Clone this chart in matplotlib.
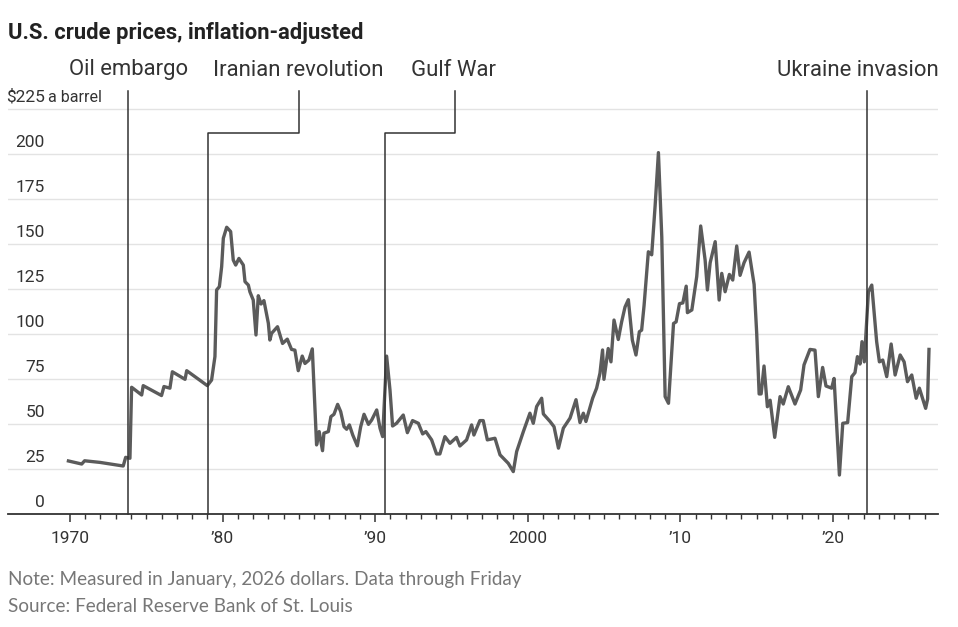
import matplotlib
matplotlib.use("Agg")
import matplotlib.pyplot as plt

years = [1969.9, 1970.77, 1970.96, 1971.97, 1973.49, 1973.65, 1973.93, 1974.04, 1974.70, 1974.80,
         1976.00, 1976.16, 1976.55, 1976.71, 1977.54, 1977.65, 1979.00, 1979.28, 1979.50, 1979.61,
         1979.79, 1979.94, 1980.05, 1980.27, 1980.53, 1980.70, 1980.86, 1981.07, 1981.36, 1981.47,
         1981.69, 1981.79, 1982.01, 1982.19, 1982.34, 1982.52, 1982.71, 1983.00, 1983.10, 1983.21,
         1983.60, 1983.93, 1984.24, 1984.52, 1984.74, 1984.96, 1985.22, 1985.40, 1985.66, 1985.88,
         1986.16, 1986.33, 1986.55, 1986.64, 1986.93, 1987.10, 1987.30, 1987.54, 1987.74, 1987.96,
         1988.13, 1988.31, 1988.53, 1988.83, 1989.05, 1989.27, 1989.56, 1989.77, 1990.10, 1990.32,
         1990.49, 1990.75, 1990.97, 1991.14, 1991.40, 1991.84, 1992.11, 1992.45, 1992.83, 1993.11,
         1993.32, 1993.70, 1994.02, 1994.24, 1994.57, 1994.90, 1995.33, 1995.55, 1995.99, 1996.32,
         1996.47, 1996.86, 1997.08, 1997.35, 1997.85, 1998.18, 1998.72, 1999.05, 1999.27, 1999.71,
         2000.14, 2000.36, 2000.58, 2000.91, 2001.02, 2001.46, 2001.72, 2002.01, 2002.33, 2002.77,
         2003.16, 2003.42, 2003.64, 2003.81, 2004.25, 2004.51, 2004.73, 2004.90, 2004.99, 2005.27,
         2005.45, 2005.65, 2005.93, 2006.15, 2006.37, 2006.59, 2006.85, 2007.09, 2007.31, 2007.46,
         2007.62, 2007.90, 2008.12, 2008.34, 2008.56, 2008.78, 2009.00, 2009.22, 2009.33, 2009.55,
         2009.72, 2009.94, 2010.16, 2010.38, 2010.46, 2010.75, 2011.07, 2011.33, 2011.62, 2011.77,
         2011.95, 2012.28, 2012.54, 2012.71, 2012.93, 2013.21, 2013.43, 2013.69, 2013.91, 2014.17,
         2014.50, 2014.83, 2015.00, 2015.16, 2015.29, 2015.48, 2015.70, 2015.88, 2016.18, 2016.53,
         2016.74, 2017.07, 2017.51, 2017.88, 2018.10, 2018.49, 2018.82, 2019.04, 2019.32, 2019.54,
         2019.91, 2020.07, 2020.42, 2020.64, 2020.96, 2021.23, 2021.44, 2021.60, 2021.77, 2021.90,
         2022.05, 2022.32, 2022.54, 2022.86, 2023.04, 2023.26, 2023.52, 2023.81, 2024.07, 2024.40,
         2024.66, 2024.88, 2025.16, 2025.45, 2025.66, 2026.07, 2026.20, 2026.29]
prices = [29.6, 27.9, 29.7, 28.8, 26.8, 31.6, 31.1, 70.5, 66.2, 71.4,
          65.9, 70.9, 70.0, 79.1, 74.9, 79.7, 71.4, 74.5, 87.5, 124.5,
          126.3, 137.4, 153.2, 159.3, 156.9, 141.1, 138.3, 142.0, 138.3, 129.1,
          127.2, 123.5, 118.9, 99.5, 121.3, 116.7, 118.6, 106.0, 96.7, 100.4,
          104.1, 94.8, 97.2, 91.5, 91.1, 79.7, 87.8, 83.7, 85.6, 91.8,
          38.5, 45.9, 35.3, 45.0, 45.9, 54.2, 55.5, 61.0, 57.0, 48.6,
          47.2, 49.6, 44.0, 38.0, 48.6, 55.5, 49.9, 52.3, 57.9, 47.7,
          43.1, 87.8, 69.0, 49.0, 50.5, 55.1, 45.3, 52.0, 50.5, 44.6,
          45.9, 41.3, 33.5, 33.5, 43.1, 39.4, 42.7, 37.9, 41.3, 49.6,
          44.0, 52.0, 52.0, 41.3, 42.2, 33.0, 28.3, 23.7, 34.8, 45.9,
          56.1, 50.5, 59.8, 64.4, 55.7, 51.5, 48.6, 36.7, 47.8, 53.4,
          63.6, 50.9, 56.1, 51.5, 64.4, 70.0, 78.3, 91.2, 74.9, 92.0,
          84.6, 107.8, 97.0, 106.8, 115.0, 119.1, 96.7, 88.4, 101.3, 102.2,
          115.9, 145.7, 144.0, 170.7, 200.7, 153.9, 65.3, 61.6, 76.3, 105.9,
          106.8, 116.9, 117.3, 126.6, 111.9, 113.4, 131.9, 160.0, 141.1, 124.5,
          139.6, 151.3, 118.9, 133.7, 123.5, 133.1, 130.0, 148.9, 132.6, 139.6,
          145.5, 127.6, 100.4, 66.8, 66.8, 82.3, 59.7, 63.3, 42.7, 65.3,
          61.2, 70.8, 61.2, 69.0, 82.9, 91.5, 91.1, 65.3, 81.5, 71.2,
          70.0, 75.4, 21.8, 50.5, 50.9, 76.4, 78.6, 87.5, 83.4, 95.8,
          84.6, 123.5, 127.2, 95.8, 84.6, 85.6, 76.4, 94.5, 77.3, 88.4,
          84.6, 73.6, 77.3, 64.4, 70.0, 58.8, 64.0, 91.5]

grid_values = [25, 50, 75, 100, 125, 150, 175, 200, 225]
y_labels = ["25", "50", "75", "100", "125", "150", "175", "200", "$225"]
x_major = [1970, 1980, 1990, 2000, 2010, 2020]
x_labels = ["1970", "\u201980", "\u201990", "2000", "\u201910", "\u201920"]

event_names = ["Oil embargo", "Iranian revolution", "Gulf War", "Ukraine invasion"]
event_dates = [1973.78, 1979.04, 1990.64, 2022.21]

SANS = ["Roboto", "DejaVu Sans"]
NOTE = ["Lato", "DejaVu Sans"]
INK = "#333333"

W, H = 958, 627
fig = plt.figure(figsize=(W / 100, H / 100), dpi=100)

# axes from x=8..938 px, y=91..514 px (from top)
ax_l, ax_r, ax_t, ax_b = 8, 938, 91, 514.3
ax = fig.add_axes([ax_l / W, 1 - ax_b / H, (ax_r - ax_l) / W, (ax_b - ax_t) / H])
x0, x1 = 1965.94, 2026.88
ymax = (ax_b - ax_t) / 1.802
ax.set_xlim(x0, x1)
ax.set_ylim(0, ymax)

for v in grid_values:
    ax.axhline(v, color="#e3e3e3", lw=1.0, zorder=1)

ax.plot(years, prices, color="#5b5b5b", lw=2.4, solid_joinstyle="round", zorder=3)

# event lines
top = ymax
elbow = (ax_b - 132.5) / 1.802
px = (x1 - x0) / (ax_r - ax_l)
ax.plot([event_dates[0]] * 2, [0, top], color=INK, lw=1.1, zorder=4, clip_on=False)
for d, xt in [(event_dates[1], 299.3), (event_dates[2], 454.5)]:
    xd = x0 + (xt - ax_l) * px
    ax.plot([d, d, xd, xd], [0, elbow, elbow, top], color=INK, lw=1.1, zorder=4, clip_on=False)
ax.plot([event_dates[3]] * 2, [0, top], color=INK, lw=1.1, zorder=4, clip_on=False)

label_centers = [129, 298.5, 453.5, 857.5]
for name, xc in zip(event_names, label_centers):
    fig.text(xc / W, 1 - 70 / H, name, ha="center", va="center", fontsize=15.9,
             color=INK, family=SANS)

# y labels above gridlines
lab_x = x0 + (45 - ax_l) * px
for v, s in zip([0] + grid_values, ["0"] + y_labels):
    ax.annotate(s, (lab_x, v), xytext=(0, 3), textcoords="offset points",
                ha="right", va="bottom", fontsize=12.5, color=INK, family=SANS)
ax.annotate("a barrel", (lab_x, 225), xytext=(2.5, 3), textcoords="offset points",
            ha="left", va="bottom", fontsize=11.5, color=INK, family=SANS)

for s in ["top", "left", "right"]:
    ax.spines[s].set_visible(False)
ax.spines["bottom"].set_color(INK)
ax.spines["bottom"].set_linewidth(1.3)
ax.set_yticks([])
ax.set_xticks(x_major)
ax.set_xticklabels(x_labels, family=SANS, fontsize=12.5, color=INK)
ax.set_xticks(list(range(1970, 2027)), minor=True)
ax.tick_params(axis="x", which="major", length=6, width=1.1, color=INK, pad=6)
ax.tick_params(axis="x", which="minor", length=3.5, width=1.0, color=INK)

fig.text(8 / W, 1 - 33 / H, "U.S. crude prices, inflation-adjusted", ha="left", va="center",
         fontsize=15.8, fontweight="bold", color="#222222", family=SANS)
fig.text(8 / W, 1 - 579 / H, "Note: Measured in January, 2026 dollars. Data through Friday",
         ha="left", va="center", fontsize=13.6, color="#777777", family=NOTE)
fig.text(8 / W, 1 - 606 / H, "Source: Federal Reserve Bank of St. Louis",
         ha="left", va="center", fontsize=13.6, color="#777777", family=NOTE)

fig.savefig("out.png", dpi=100)
